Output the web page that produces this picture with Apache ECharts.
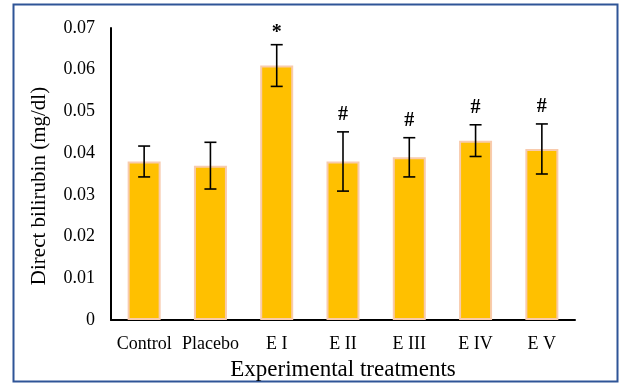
<!DOCTYPE html>
<html>
<head>
<meta charset="utf-8">
<script src="https://cdn.jsdelivr.net/npm/echarts@6/dist/echarts.min.js"></script>
<style>
  html, body { margin: 0; padding: 0; background: #fff; }
  #chart { width: 622px; height: 383px; }
</style>
</head>
<body>
<div id="chart"></div>
<script>
const treatments = ['Control', 'Placebo', 'E I', 'E II', 'E III', 'E IV', 'E V'];
const bilirubin = [0.038, 0.037, 0.061, 0.038, 0.039, 0.043, 0.041];
const errUp = [0.0037, 0.0056, 0.005, 0.0071, 0.0047, 0.0038, 0.006];
const errDown = [0.0037, 0.0056, 0.005, 0.0071, 0.0047, 0.0038, 0.006];
const marks = ['', '', '*', '#', '#', '#', '#'];

let chart = echarts.init(document.getElementById('chart'));

const serif = '"Liberation Serif", "Times New Roman", serif';

const option = {
    animation: false,
    grid: {
        left: 111,
        right: 47,
        top: 28,
        bottom: 63,
        outerBoundsMode: 'none'
    },
    graphic: [{
        type: 'rect',
        shape: { x: 13.5, y: 4.5, width: 604, height: 377 },
        style: { fill: 'none', stroke: '#2F5597', lineWidth: 2 },
        silent: true
    }],
    xAxis: {
        type: 'category',
        data: treatments,
        name: 'Experimental treatments',
        nameLocation: 'middle',
        nameGap: 38,
        nameTextStyle: { fontFamily: serif, fontSize: 23, color: '#000' },
        axisLine: { lineStyle: { color: '#000', width: 2 } },
        axisTick: { show: false },
        axisLabel: { interval: 0, fontFamily: serif, fontSize: 18, color: '#000', margin: 15 }
    },
    yAxis: {
        type: 'value',
        min: 0,
        max: 0.07,
        interval: 0.01,
        name: 'Direct bilirubin (mg/dl)',
        nameLocation: 'middle',
        nameGap: 61,
        nameTextStyle: { fontFamily: serif, fontSize: 21, color: '#000', padding: [0, 24, 0, 0] },
        axisLine: { show: true, lineStyle: { color: '#000', width: 2 } },
        axisTick: { show: false },
        splitLine: { show: false },
        axisLabel: {
            fontFamily: serif, fontSize: 18, color: '#000', margin: 16,
            formatter: v => v === 0 ? '0' : v.toFixed(2)
        }
    },
    series: [
        {
            name: 'Direct bilirubin',
            type: 'bar',
            data: bilirubin,
            barWidth: 33,
            itemStyle: { color: '#FFC000', borderColor: '#F8CBAD', borderWidth: 2 }
        },
        {
            type: 'custom',
            data: bilirubin.map((v, i) => [i, v - errDown[i], v + errUp[i], marks[i]]),
            z: 10,
            renderItem: function (params, api) {
                const lo = api.coord([api.value(0), api.value(1)]);
                const hi = api.coord([api.value(0), api.value(2)]);
                const cap = 6;
                const style = { stroke: '#000', lineWidth: 1.6 };
                const mark = api.value(3);
                return {
                    type: 'group',
                    children: [
                        { type: 'line', shape: { x1: hi[0], y1: hi[1], x2: lo[0], y2: lo[1] }, style },
                        { type: 'line', shape: { x1: hi[0] - cap, y1: hi[1], x2: hi[0] + cap, y2: hi[1] }, style },
                        { type: 'line', shape: { x1: lo[0] - cap, y1: lo[1], x2: lo[0] + cap, y2: lo[1] }, style },
                        {
                            type: 'text',
                            style: {
                                text: mark,
                                x: hi[0], y: hi[1] - (mark === '*' ? 2 : 7),
                                align: 'center', verticalAlign: 'bottom',
                                font: 'bold 20px ' + serif,
                                fill: '#000'
                            }
                        }
                    ]
                };
            }
        }
    ]
};

option && chart.setOption(option);
window.addEventListener('resize', chart.resize);
</script>
</body>
</html>
